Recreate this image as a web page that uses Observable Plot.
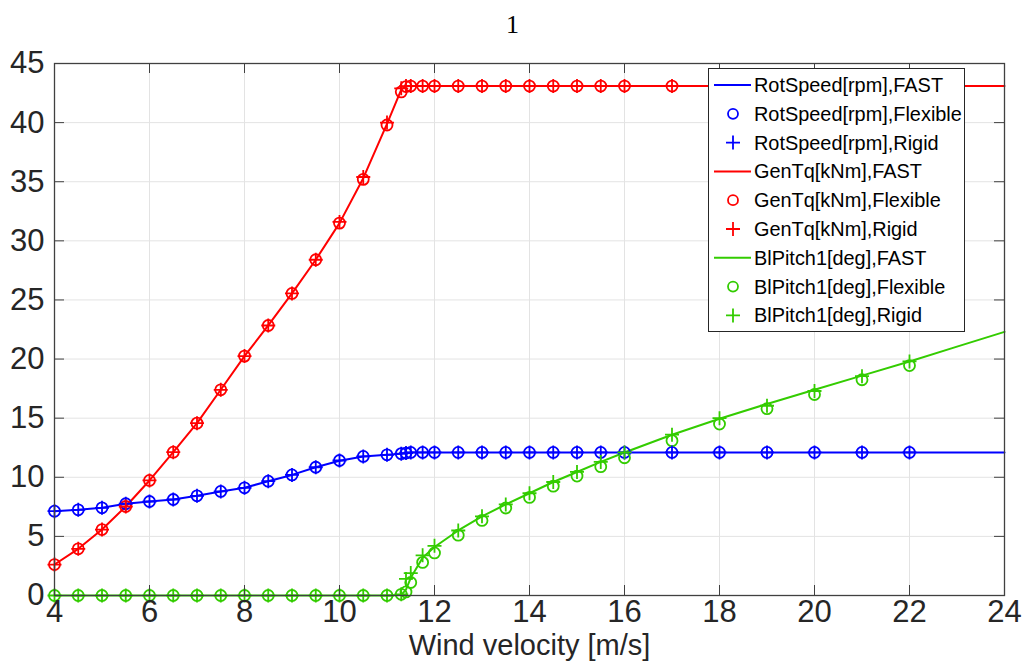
<!DOCTYPE html>
<html><head><meta charset="utf-8">
<script src="https://cdn.jsdelivr.net/npm/d3@7"></script>
<script src="https://cdn.jsdelivr.net/npm/@observablehq/plot@0.6"></script>
<style>
html,body{margin:0;padding:0;background:#fff;}
#wrap{position:relative;width:1025px;height:667px;overflow:hidden;}
#title{height:40px;width:1025px;text-align:center;font-family:"Liberation Serif","Times New Roman",serif;font-size:26px;line-height:28px;padding-top:11px;box-sizing:border-box;color:#000;}
#legend{position:absolute;left:708px;top:68px;}
</style></head><body>
<div id="wrap"><div id="title">1</div><div id="chart"></div><div id="legend"></div></div>
<script>
// ---------- data ----------
const xTicks = [4, 6, 8, 10, 12, 14, 16, 18, 20, 22, 24];
const yTicks = [0, 5, 10, 15, 20, 25, 30, 35, 40, 45];

// wind speeds at which simulations were made (markers)
const windPts = [4, 4.5, 5, 5.5, 6, 6.5, 7, 7.5, 8, 8.5, 9, 9.5, 10, 10.5, 11, 11.3, 11.4, 11.5, 11.75, 12,
  12.5, 13, 13.5, 14, 14.5, 15, 15.5, 16, 17, 18, 19, 20, 21, 22];
// wind speeds of the FAST reference curves
const windFast = [4, 4.5, 5, 5.5, 6, 6.5, 7, 7.5, 8, 8.5, 9, 9.5, 10, 10.5, 11, 11.3, 11.4, 11.5, 11.75, 12,
  12.5, 13, 13.5, 14, 14.5, 15, 15.5, 16, 17, 18, 19, 20, 21, 22, 23, 24];

const rotSpeedFast = [7.13, 7.25, 7.42, 7.76, 7.95, 8.12, 8.43, 8.8, 9.11, 9.67, 10.2, 10.85, 11.4, 11.75, 11.9, 12.0, 12.05, 12.1, 12.1, 12.1,
  12.1, 12.1, 12.1, 12.1, 12.1, 12.1, 12.1, 12.1, 12.1, 12.1, 12.1, 12.1, 12.1, 12.1, 12.1, 12.1];
const rotSpeedFlex = [7.13, 7.25, 7.42, 7.76, 7.95, 8.12, 8.43, 8.8, 9.11, 9.67, 10.2, 10.85, 11.42, 11.76, 11.9, 12.0, 12.05, 12.1, 12.1, 12.1,
  12.1, 12.1, 12.1, 12.1, 12.1, 12.1, 12.1, 12.1, 12.1, 12.1, 12.1, 12.1, 12.1, 12.1];
const rotSpeedRigid = [7.13, 7.25, 7.42, 7.76, 7.95, 8.12, 8.43, 8.8, 9.11, 9.67, 10.2, 10.85, 11.42, 11.76, 11.9, 12.0, 12.05, 12.1, 12.1, 12.1,
  12.1, 12.1, 12.1, 12.1, 12.1, 12.1, 12.1, 12.1, 12.1, 12.1, 12.1, 12.1, 12.1, 12.1];

const genTqFast = [2.62, 3.95, 5.58, 7.53, 9.73, 12.12, 14.58, 17.4, 20.25, 22.84, 25.55, 28.4, 31.5, 35.3, 39.9, 42.8, 43.09, 43.09, 43.09, 43.09,
  43.09, 43.09, 43.09, 43.09, 43.09, 43.09, 43.09, 43.09, 43.09, 43.09, 43.09, 43.09, 43.09, 43.09, 43.09, 43.09];
const genTqFlex = [2.62, 3.95, 5.58, 7.53, 9.73, 12.12, 14.58, 17.4, 20.25, 22.84, 25.55, 28.4, 31.5, 35.2, 39.8, 42.6, 43.05, 43.09, 43.09, 43.09,
  43.09, 43.09, 43.09, 43.09, 43.09, 43.09, 43.09, 43.09, 43.09, 43.09, 43.09, 43.09, 43.09, 43.09];
const genTqRigid = [2.62, 3.95, 5.58, 7.53, 9.73, 12.12, 14.58, 17.4, 20.25, 22.84, 25.55, 28.4, 31.6, 35.4, 40.0, 42.9, 43.09, 43.09, 43.09, 43.09,
  43.09, 43.09, 43.09, 43.09, 43.09, 43.09, 43.09, 43.09, 43.09, 43.09, 43.09, 43.09, 43.09, 43.09];

const pitchFast = [0, 0, 0, 0, 0, 0, 0, 0, 0, 0, 0, 0, 0, 0, 0, 0.05, 0.5, 1.5, 3.2, 4.1,
  5.5, 6.7, 7.7, 8.65, 9.6, 10.45, 11.3, 12.1, 13.6, 14.95, 16.2, 17.4, 18.6, 19.8, 21.05, 22.3];
const pitchFlex = [0, 0, 0, 0, 0, 0, 0, 0, 0, 0, 0, 0, 0, 0, 0, 0.1, 0.3, 1.1, 2.8, 3.6,
  5.1, 6.35, 7.4, 8.3, 9.25, 10.1, 10.9, 11.65, 13.1, 14.5, 15.8, 17.0, 18.25, 19.45];
const pitchRigid = [0, 0, 0, 0, 0, 0, 0, 0, 0, 0, 0, 0, 0, 0, 0, 0.1, 1.4, 1.9, 3.4, 4.2,
  5.5, 6.7, 7.7, 8.65, 9.6, 10.45, 11.3, 12.1, 13.6, 15.0, 16.05, 17.3, 18.55, 19.8];

const seriesNames = ["RotSpeed[rpm]", "GenTq[kNm]", "BlPitch1[deg]"];
const seriesColors = ["#0000ff", "#ff0000", "#33cc00"];
const xLabel = "Wind velocity [m/s]";

// ---------- build tables ----------
const fastSets = [rotSpeedFast, genTqFast, pitchFast];
const flexSets = [rotSpeedFlex, genTqFlex, pitchFlex];
const rigidSets = [rotSpeedRigid, genTqRigid, pitchRigid];
const fastRows = [], flexRows = [], rigidRows = [];
seriesNames.forEach((s, k) => {
  windFast.forEach((w, i) => fastRows.push({s, k, x: w, y: fastSets[k][i]}));
  windPts.forEach((w, i) => flexRows.push({s, k, x: w, y: flexSets[k][i]}));
  windPts.forEach((w, i) => rigidRows.push({s, k, x: w, y: rigidSets[k][i]}));
});

const plusSymbol = {
  draw(ctx, size) {
    const r = Math.sqrt(size / Math.PI);
    ctx.moveTo(-r, 0); ctx.lineTo(r, 0);
    ctx.moveTo(0, -r); ctx.lineTo(0, r);
  }
};

const W = 1025, H = 627, mT = 23, mB = 72, mL = 54, mR = 21;
const xDom = [xTicks[0], xTicks[xTicks.length - 1]];
const yDom = [yTicks[0], yTicks[yTicks.length - 1]];
const tickPx = 10;
const tickDy = tickPx * (yDom[1] - yDom[0]) / (H - mT - mB);
const tickDx = tickPx * (xDom[1] - xDom[0]) / (W - mL - mR);
const axisColor = "#404040";
const colorOf = d => seriesColors[d.k];

const chart = Plot.plot({
  width: W, height: H,
  marginTop: mT, marginBottom: mB, marginLeft: mL, marginRight: mR,
  x: {domain: xDom, ticks: xTicks},
  y: {domain: yDom, ticks: yTicks},
  style: {fontFamily: "'Liberation Sans', Arial, Helvetica, sans-serif", background: "#fff", color: "#262626"},
  marks: [
    Plot.ruleX(xTicks.slice(1, -1), {stroke: "#e3e3e3", strokeWidth: 1}),
    Plot.ruleY(yTicks.slice(1, -1), {stroke: "#e3e3e3", strokeWidth: 1}),
    Plot.line(fastRows, {x: "x", y: "y", z: "s", stroke: colorOf, strokeWidth: 2}),
    Plot.dot(flexRows, {x: "x", y: "y", r: 5.5, stroke: colorOf, fill: "none", strokeWidth: 1.8}),
    Plot.dot(rigidRows, {x: "x", y: "y", r: 7, symbol: plusSymbol, stroke: colorOf, fill: "none", strokeWidth: 1.8}),
    // inward ticks on all four sides
    Plot.ruleX(xTicks, {y1: yDom[0], y2: yDom[0] + tickDy, stroke: axisColor}),
    Plot.ruleX(xTicks, {y1: yDom[1], y2: yDom[1] - tickDy, stroke: axisColor}),
    Plot.ruleY(yTicks, {x1: xDom[0], x2: xDom[0] + tickDx, stroke: axisColor}),
    Plot.ruleY(yTicks, {x1: xDom[1], x2: xDom[1] - tickDx, stroke: axisColor}),
    Plot.frame({stroke: axisColor, strokeWidth: 1.3}),
    Plot.axisX({ticks: xTicks, tickSize: 0, tickPadding: 4, fontSize: 31, label: null, fill: "#262626"}),
    Plot.axisY({ticks: yTicks, tickSize: 0, tickPadding: 10, fontSize: 31, label: null, fill: "#262626"}),
    Plot.text([xLabel], {frameAnchor: "bottom", dy: 59, fontSize: 29, fill: "#262626"})
  ]
});
document.getElementById("chart").appendChild(chart);

// ---------- legend ----------
const lgW = 257, lgH = 264, rowH = 28.8, row0 = 17;
const lg = d3.select("#legend").append("svg").attr("width", lgW).attr("height", lgH)
  .style("font-family", "'Liberation Sans', Arial, Helvetica, sans-serif");
lg.append("rect").attr("x", 0.5).attr("y", 0.5).attr("width", lgW - 1).attr("height", lgH - 1)
  .attr("fill", "#fff").attr("stroke", "#262626").attr("stroke-width", 1);
const kinds = ["FAST", "Flexible", "Rigid"];
let row = 0;
seriesNames.forEach((s, k) => {
  kinds.forEach(kind => {
    const cy = row0 + row * rowH;
    const c = seriesColors[k];
    if (kind === "FAST") {
      lg.append("line").attr("x1", 6).attr("x2", 43).attr("y1", cy).attr("y2", cy).attr("stroke", c).attr("stroke-width", 2);
    } else if (kind === "Flexible") {
      lg.append("circle").attr("cx", 25).attr("cy", cy).attr("r", 5).attr("fill", "none").attr("stroke", c).attr("stroke-width", 1.8);
    } else {
      lg.append("path").attr("d", `M${25 - 7},${cy}H${25 + 7}M25,${cy - 7}V${cy + 7}`).attr("stroke", c).attr("stroke-width", 1.8);
    }
    lg.append("text").attr("x", 46).attr("y", cy).attr("dy", "0.35em").attr("font-size", 19.9).attr("fill", "#000")
      .text(`${s},${kind}`);
    row++;
  });
});
</script>
</body></html>
